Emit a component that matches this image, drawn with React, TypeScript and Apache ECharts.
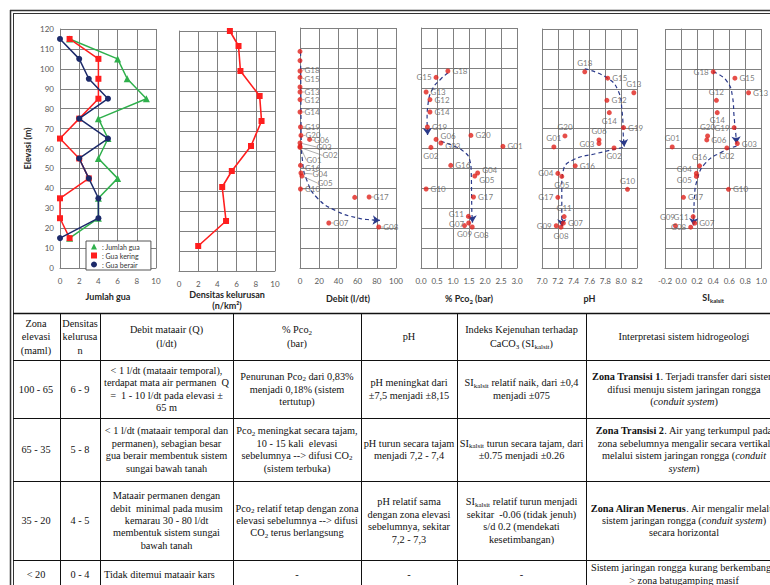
import React, { useEffect, useRef } from "react";
import * as echarts from "echarts";

const SANS = "Lato, 'Open Sans', sans-serif";
const SERIF = "'Liberation Serif', 'Times New Roman', serif";

// ---- Cave counts per 10 m elevation band ----
const caveElevation = [115, 105, 95, 85, 75, 65, 55, 45, 35, 25, 15];
const caveTotal = [1, 6, 7, 9, 4, 5, 4, 6, 4, 4, 1];
const caveDry = [1, 4, 4, 4, 2, 0, 2, 3, 0, 0, 1];
const caveWet = [0, 2, 3, 5, 2, 5, 2, 3, 4, 4, 0];

// ---- Lineament density profile ----
const densityElevation = [120, 112.5, 100, 87.5, 75, 62.5, 50, 42, 25, 12.5];
const densityValue = [5.3, 6.2, 6.4, 8.4, 8.6, 7.5, 5.5, 4.5, 4.9, 2.0];

// ---- Springs ----
const springIds = ["G18", "G15", "G13", "G12", "G14", "G19", "G20", "G06", "G03", "G01", "G02", "G16", "G04", "G05", "G10", "G17", "G11", "G07", "G09", "G08"];
const springElevation = [98.5, 95.3, 88, 84.2, 78, 70.5, 66.3, 64.3, 62.5, 60.8, 60.3, 51.3, 47.5, 46, 39.5, 35.5, 25.8, 22.5, 21.2, 20.5];
const springDischarge = [0, 0, 0, 0, 0, 0.5, 1, 10, 0, 0, 0, 0.5, 1, 2, 0.5, 72, null, 30, null, 82];
const springPco2 = [0.84, 0.47, 0.16, 0.28, 0.28, 0.2, 1.56, 0.47, 0.62, 2.56, 0.31, 0.93, 1.77, 1.68, 0.16, 1.64, 1.48, 1.49, 1.36, 1.6];
const springPH = [7.54, 7.83, 8.16, 7.82, 7.85, 8.03, 7.29, 7.72, 7.72, 7.15, 7.91, 7.42, 7.2, 7.25, 8.08, 7.2, 7.28, 7.27, 7.18, 7.24];
const springSI = [0.4, 0.67, 0.84, 0.44, 0.45, 0.66, 0.33, 0.32, 0.7, -0.11, 0.57, 0.23, 0.19, 0.19, 0.59, 0.03, 0.15, 0.17, -0.07, 0.12];
// unnamed discharge observations
const otherElevation = [108.3, 103.7, 90.5, 35.3];
const otherDischarge = [0, 0, 0, 57];

// ---- Trend arrows (dashed) ----
const dischargeTrend = [[0.6, 108], [0.8, 92], [1, 76], [1.3, 64], [2.5, 54], [7, 44], [18, 35], [38, 28.5], [60, 25], [76, 24], [83, 23.8]];
const pco2TrendUpper = [[0.84, 97.5], [0.62, 94.5], [0.36, 89.5], [0.22, 82], [0.19, 74], [0.2, 69.5], [0.21, 66.5]];
const pco2TrendLower = [[0.62, 63.3], [1.0, 61.2], [1.33, 58.3], [1.52, 54.2], [1.57, 47.5], [1.58, 37.5], [1.59, 27.5], [1.6, 25.5], [1.61, 22.8]];
const phTrendUpper = [[7.54, 100], [7.81, 95.8], [7.96, 89.2], [8.01, 79.2], [8.03, 64.5], [8.04, 61]];
const phTrendLower = [[8.02, 60.5], [7.69, 57.5], [7.39, 54.2], [7.27, 49.2], [7.25, 40.8], [7.25, 30.8], [7.25, 24.5], [7.25, 21]];
const siTrendUpper = [[0.4, 98.5], [0.56, 94.3], [0.64, 86], [0.66, 76], [0.685, 65.5], [0.69, 62.5]];
const siTrendLower = [[0.69, 61.2], [0.51, 58.3], [0.3, 52.5], [0.2, 44.2], [0.165, 34.2], [0.157, 25], [0.154, 21.5]];

// ---- Summary table ----
const tableHeader = [
  "Zona\nelevasi\n(maml)",
  "Densitas\nkelurusa\nn",
  "Debit mataair (Q)\n(l/dt)",
  "% Pco{s|2}\n(bar)",
  "pH",
  "Indeks Kejenuhan terhadap\nCaCO{s|3} (SI{s|kalsit})",
  "Interpretasi sistem hidrogeologi",
];
const zoneElevation = ["100 - 65", "65 - 35", "35 - 20", "< 20"];
const lineamentRange = ["6 - 9", "5 - 8", "4 - 5", "0 - 4"];
const dischargeNotes = [
  "< 1 l/dt (mataair temporal),\nterdapat mata air permanen  Q\n=  1 - 10 l/dt pada elevasi ±\n65 m",
  "< 1 l/dt (mataair temporal dan\npermanen), sebagian besar\ngua berair membentuk sistem\nsungai bawah tanah",
  "Mataair permanen dengan\ndebit  minimal pada musim\nkemarau 30 - 80 l/dt\nmembentuk sistem sungai\nbawah tanah",
  "Tidak ditemui mataair kars",
];
const pco2Notes = [
  "Penurunan Pco{s|2} dari 0,83%\nmenjadi 0,18% (sistem\ntertutup)",
  "Pco{s|2} meningkat secara tajam,\n10 - 15 kali  elevasi\nsebelumnya --> difusi CO{s|2}\n(sistem terbuka)",
  "Pco{s|2} relatif tetap dengan zona\nelevasi sebelumnya --> difusi\nCO{s|2} terus berlangsung",
  "-",
];
const phNotes = [
  "pH meningkat dari\n±7,5 menjadi ±8,15",
  "pH turun secara tajam\nmenjadi 7,2 - 7,4",
  "pH relatif sama\ndengan zona elevasi\nsebelumnya, sekitar\n7,2 - 7,3",
  "-",
];
const siNotes = [
  "SI{s|kalsit} relatif naik, dari ±0,4\nmenjadi ±075",
  "SI{s|kalsit} turun secara tajam, dari\n±0.75 menjadi ±0.26",
  "SI{s|kalsit} relatif turun menjadi\nsekitar  -0.06 (tidak jenuh)\ns/d 0.2 (mendekati\nkesetimbangan)",
  "-",
];
const interpretationNotes = [
  "{b|Zona Transisi 1}. Terjadi transfer dari sistem\ndifusi menuju sistem jaringan rongga\n({i|conduit system})",
  "{b|Zona Transisi 2}. Air yang terkumpul pada\nzona sebelumnya mengalir secara vertikal\nmelalui sistem jaringan rongga ({i|conduit}\n{i|system})",
  "{b|Zona Aliran Menerus}. Air mengalir melalui\nsistem jaringan rongga ({i|conduit system})\nsecara horizontal",
  "Sistem jaringan rongga kurang berkembang -\n> zona batugamping masif",
];

// ---- Styling ----
const GRID_COLOR = "#808080";
const TICK_COLOR = "#595959";
const TITLE_COLOR = "#262626";
const NAVY = "#2b3a8a";
const POINT_RED = "#e0221c";
const GREEN = "#2fb04c";
const RED = "#ff1e1e";
const DARK_BLUE = "#1c2a6a";
const TABLE_FONT = 10.3;

const panels = [
  { grid: { left: 60, top: 29, width: 96, height: 239 }, range: [0, 10, 2], dec: 0, title: "Jumlah gua", gap: 23 },
  { grid: { left: 179, top: 31, width: 96, height: 240 }, range: [0, 10, 2], dec: 0, title: "Densitas kelurusan\n(n/km²)", gap: 17 },
  { grid: { left: 300, top: 28, width: 96, height: 240 }, range: [0, 100, 20], dec: 0, title: "Debit (l/dt)", gap: 25 },
  { grid: { left: 421, top: 28, width: 96, height: 240 }, range: [0, 3, 0.5], dec: 1, title: "% Pco{s|2} (bar)", gap: 25 },
  { grid: { left: 542, top: 29, width: 95, height: 239 }, range: [7, 8.2, 0.2], dec: 1, title: "pH", gap: 25 },
  { grid: { left: 665, top: 29, width: 104, height: 239 }, range: [-0.2, 1.0, 0.2], dec: 1, title: "SI{s|kalsit}", gap: 24 },
];

const pco2LabelPos: Record<string, string> = { G15: "left", G02: "bottom", G11: "left", G07: "left", G09: "bottom", G08: "bottom" };
const phLabelPos: Record<string, string> = {
  G18: "top", G13: "top", G14: "bottom", G20: "top", G06: "top", G03: "left", G01: "top", G02: "bottom",
  G04: "left", G05: "bottom", G10: "top", G17: "left", G11: "top", G09: "left", G08: "bottom",
};
const siLabelPos: Record<string, string> = {
  G18: "left", G12: "top", G14: "bottom", G19: "left", G20: "top", G01: "top", G02: "bottom", G16: "top",
  G04: "left", G05: "left", G11: "left", G09: "top", G08: "left",
};
const pco2LabelNudge: Record<string, number[]> = {
  G04: [0, -3], G05: [0, 4], G06: [0, -3], G03: [0, 3], G11: [0, -2], G07: [0, 1], G08: [9, -1],
};
const phLabelNudge: Record<string, number[]> = {};
const siLabelNudge: Record<string, number[]> = { G04: [0, -4], G05: [0, 4], G09: [-8, 0], G14: [0, -1] };
const dischargeLabelShift: Record<string, number[]> = {
  G18: [0, -1.5], G15: [0, 1.5], G06: [0, 1], G03: [12, 4], G02: [18, 8], G01: [2, 14], G16: [0, 3], G04: [7, 1], G05: [11, 7],
};

const tableCols = [12, 60, 100, 233, 361, 457, 586, 782];
const tableRows = [313, 360, 418, 481, 560, 588];

const titleRich = {
  s: { fontSize: 6, fontWeight: "bold", fontFamily: SANS, color: TITLE_COLOR, verticalAlign: "bottom", lineHeight: 7 },
};

function trendSeries(idx: number, pts: number[][]) {
  const n = pts.length;
  return {
    type: "line",
    xAxisIndex: idx,
    yAxisIndex: idx,
    data: pts,
    smooth: 0.5,
    symbol: "none",
    silent: true,
    z: 3,
    lineStyle: { color: NAVY, width: 1.2, type: [4, 3] },
    markLine: {
      silent: true,
      symbol: ["none", "arrow"],
      symbolSize: 7,
      label: { show: false },
      lineStyle: { color: NAVY, width: 1.2, type: "solid" },
      data: [[{ coord: pts[n - 2] }, { coord: pts[n - 1] }]],
    },
  };
}

function springSeries(idx: number, xs: (number | null)[], pos: Record<string, string>, nudge: Record<string, number[]>) {
  const data = springIds
    .map((id, k) => ({ id, x: xs[k], y: springElevation[k] }))
    .filter((d) => d.x !== null)
    .map((d) => {
      const lbl: any = {};
      if (pos[d.id]) lbl.position = pos[d.id];
      if (nudge[d.id]) lbl.offset = nudge[d.id];
      return { name: d.id, value: [d.x, d.y], label: Object.keys(lbl).length ? lbl : undefined };
    });
  return {
    type: "scatter",
    xAxisIndex: idx,
    yAxisIndex: idx,
    symbolSize: 5,
    z: 5,
    itemStyle: { color: POINT_RED },
    label: {
      show: true,
      position: "right",
      distance: 2,
      fontSize: 8,
      color: TICK_COLOR,
      fontFamily: SANS,
      formatter: (p: any) => p.name,
    },
    data,
  };
}

function buildTable() {
  const els: any[] = [];
  const ink = "#111";
  // page frame
  els.push({ type: "line", shape: { x1: 10, y1: 10.5, x2: 780, y2: 10.5 }, style: { stroke: "#333", lineWidth: 1.5 } });
  els.push({ type: "line", shape: { x1: 13, y1: 13.5, x2: 780, y2: 13.5 }, style: { stroke: "#333", lineWidth: 1 } });
  els.push({ type: "line", shape: { x1: 10.5, y1: 10, x2: 10.5, y2: 600 }, style: { stroke: "#333", lineWidth: 1.5 } });
  els.push({ type: "line", shape: { x1: 13.5, y1: 13, x2: 13.5, y2: 600 }, style: { stroke: "#333", lineWidth: 1 } });
  // row rules
  tableRows.forEach((y, i) => {
    els.push({ type: "line", shape: { x1: 13, y1: y + 0.5, x2: 790, y2: y + 0.5 }, style: { stroke: ink, lineWidth: i === 0 ? 1.5 : 1 } });
  });
  // column rules
  tableCols.slice(1, -1).forEach((x) => {
    els.push({ type: "line", shape: { x1: x + 0.5, y1: tableRows[0], x2: x + 0.5, y2: 600 }, style: { stroke: ink, lineWidth: 1 } });
  });
  const rich = {
    b: { fontFamily: SERIF, fontSize: TABLE_FONT, fontWeight: "bold", fill: ink },
    i: { fontFamily: SERIF, fontSize: TABLE_FONT, fontStyle: "italic", fill: ink },
    s: { fontFamily: SERIF, fontSize: 7, fill: ink, verticalAlign: "bottom", lineHeight: 6 },
  };
  const cell = (text: string, c: number, r: number, lh: number, left = false) => {
    const x0 = tableCols[c];
    const x1 = tableCols[c + 1];
    const y = (tableRows[r] + tableRows[r + 1]) / 2;
    const x = left ? x0 + 4 : (x0 + x1) / 2;
    els.push({
      type: "text",
      x,
      y,
      style: {
        text,
        align: left ? "left" : "center",
        verticalAlign: "middle",
        textAlign: left ? "left" : "center",
        textVerticalAlign: "middle",
        fontFamily: SERIF,
        fontSize: TABLE_FONT,
        lineHeight: lh,
        fill: ink,
        rich,
      },
    });
  };
  tableHeader.forEach((t, c) => cell(t, c, 0, 13.5));
  const columns = [zoneElevation, lineamentRange, dischargeNotes, pco2Notes, phNotes, siNotes, interpretationNotes];
  for (let r = 0; r < 4; r++) {
    columns.forEach((col, c) => cell(col[r], c, r + 1, 12.4, r === 3 && c === 2));
  }
  return els;
}

function buildOption() {
  const grid = panels.map((p) => ({ ...p.grid, containLabel: false }));
  const xAxis = panels.map((p, i) => ({
    type: "value",
    gridIndex: i,
    min: p.range[0],
    max: p.range[1],
    interval: p.range[2],
    axisLine: { show: true, lineStyle: { color: GRID_COLOR } },
    axisTick: { show: false },
    splitLine: { show: true, lineStyle: { color: GRID_COLOR, width: 1 } },
    axisLabel: {
      fontSize: 8,
      color: TICK_COLOR,
      fontFamily: SANS,
      margin: 9,
      formatter: (v: number) => v.toFixed(p.dec),
    },
    name: p.title,
    nameLocation: "middle",
    nameGap: p.gap,
    nameTextStyle: { fontSize: 9, fontWeight: "bold", color: TITLE_COLOR, fontFamily: SANS, lineHeight: 11, rich: titleRich },
  }));
  const yAxis = panels.map((p, i) => ({
    type: "value",
    gridIndex: i,
    min: 0,
    max: 120,
    interval: 10,
    axisLine: { show: true, lineStyle: { color: GRID_COLOR } },
    axisTick: { show: false },
    splitLine: { show: true, lineStyle: { color: GRID_COLOR, width: 1 } },
    axisLabel: { show: i === 0, fontSize: 8, color: TICK_COLOR, fontFamily: SANS, margin: 6 },
    name: i === 0 ? "Elevasi (m)" : "",
    nameLocation: "middle",
    nameGap: 28,
    nameRotate: 90,
    nameTextStyle: { fontSize: 9, fontWeight: "bold", color: TITLE_COLOR, fontFamily: SANS },
  }));

  const zip = (xs: number[], ys: number[]) => xs.map((x, k) => [x, ys[k]]);
  const dischargeIds = springIds.filter((_, k) => springDischarge[k] !== null);

  const series: any[] = [
    {
      name: "Jumlah gua",
      type: "line",
      xAxisIndex: 0,
      yAxisIndex: 0,
      data: zip(caveTotal, caveElevation),
      symbol: "triangle",
      symbolSize: 7,
      lineStyle: { color: GREEN, width: 1.5 },
      itemStyle: { color: GREEN },
      z: 3,
    },
    {
      name: "Gua kering",
      type: "line",
      xAxisIndex: 0,
      yAxisIndex: 0,
      data: zip(caveDry, caveElevation),
      symbol: "rect",
      symbolSize: 6,
      lineStyle: { color: RED, width: 1.5 },
      itemStyle: { color: RED },
      z: 4,
    },
    {
      name: "Gua berair",
      type: "line",
      xAxisIndex: 0,
      yAxisIndex: 0,
      data: zip(caveWet, caveElevation),
      symbol: "circle",
      symbolSize: 6,
      lineStyle: { color: DARK_BLUE, width: 1.5 },
      itemStyle: { color: DARK_BLUE },
      z: 5,
    },
    {
      type: "line",
      xAxisIndex: 1,
      yAxisIndex: 1,
      data: zip(densityValue, densityElevation),
      symbol: "rect",
      symbolSize: 6,
      lineStyle: { color: RED, width: 1.6 },
      itemStyle: { color: RED },
    },
    trendSeries(2, dischargeTrend),
    {
      type: "scatter",
      xAxisIndex: 2,
      yAxisIndex: 2,
      symbolSize: 5,
      z: 5,
      itemStyle: { color: POINT_RED },
      data: zip(otherDischarge, otherElevation),
    },
    {
      ...springSeries(2, springDischarge, {}, {}),
      labelLine: { show: true, lineStyle: { color: "#777", width: 0.6 } },
      labelLayout: (params: any) => {
        const s = dischargeLabelShift[dischargeIds[params.dataIndex]];
        return s ? { dx: s[0], dy: s[1] } : {};
      },
    },
    trendSeries(3, pco2TrendUpper),
    trendSeries(3, pco2TrendLower),
    springSeries(3, springPco2, pco2LabelPos, pco2LabelNudge),
    trendSeries(4, phTrendUpper),
    trendSeries(4, phTrendLower),
    springSeries(4, springPH, phLabelPos, phLabelNudge),
    trendSeries(5, siTrendUpper),
    trendSeries(5, siTrendLower),
    springSeries(5, springSI, siLabelPos, siLabelNudge),
  ];

  return {
    animation: false,
    backgroundColor: "#ffffff",
    textStyle: { fontFamily: SANS },
    grid,
    xAxis,
    yAxis,
    legend: {
      data: [
        { name: "Jumlah gua", icon: "triangle" },
        { name: "Gua kering", icon: "rect" },
        { name: "Gua berair", icon: "circle" },
      ],
      formatter: (n: string) => ": " + n,
      orient: "vertical",
      left: 86,
      top: 241,
      itemWidth: 6,
      itemHeight: 6,
      itemGap: 2,
      padding: [2, 11, 2, 5],
      backgroundColor: "#ffffff",
      borderColor: "#555",
      borderWidth: 1,
      borderRadius: 0,
      selectedMode: false,
      textStyle: { fontSize: 7, color: "#333", fontFamily: SANS },
      z: 10,
    },
    graphic: buildTable(),
    series,
  };
}

export default function App() {
  const ref = useRef<HTMLDivElement>(null);
  useEffect(() => {
    document.body.style.margin = "0";
    const chart = echarts.init(ref.current!, null, { renderer: "svg" });
    chart.setOption(buildOption() as any);
    return () => chart.dispose();
  }, []);
  return <div ref={ref} style={{ width: 770, height: 585 }} />;
}
